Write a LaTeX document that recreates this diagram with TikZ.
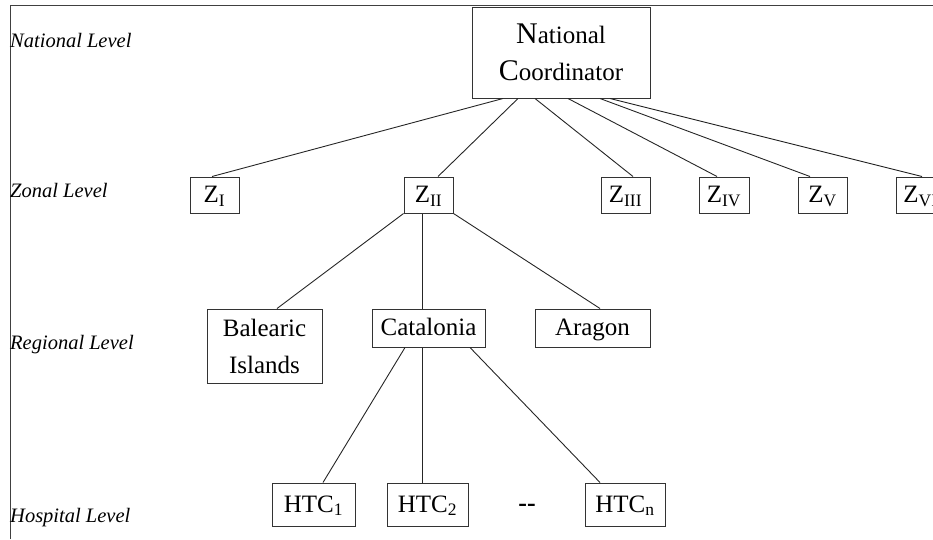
\documentclass[tikz,border=0pt]{standalone}
\usepackage{fontspec}
\setmainfont{Liberation Serif}
\usepackage{tikz}
\newcommand{\boxfont}{\fontsize{25}{37}\selectfont}
\newcommand{\initcap}[1]{{\fontsize{30}{37}\selectfont #1}}

\begin{document}
\begin{tikzpicture}[x=1pt,y=-1pt,
    orgbox/.style={draw=black!80,line width=1pt,inner sep=0pt,align=center,
        minimum height=36pt,font=\boxfont},
    oneline/.style={text height=17pt,text depth=1.5pt},
    levellabel/.style={anchor=west,inner sep=0pt,font=\fontsize{20.5}{22}\selectfont\itshape},
    link/.style={black!85,line width=0.9pt}]
\useasboundingbox (0,0) rectangle (933,539);
\clip (0,0) rectangle (933,539);
% frame
\draw[black!75,line width=1pt] (10,539) -- (10,5) -- (933,5);

% level labels
\node[levellabel] (lnat) at (10,40) {National Level};
\node[levellabel] (lzon) at (10,190) {Zonal Level};
\node[levellabel] (lreg) at (10,345) {Regional Level};
\node[levellabel] (lhos) at (10,518) {Hospital Level};

% national
\node[orgbox,minimum width=178pt,minimum height=91pt] (nc) at (561,52.5)
    {\initcap{N}ational\\\initcap{C}oordinator};

% zonal
\node[orgbox,oneline,minimum width=49pt] (z1) at (214.5,195) {Z\textsubscript{I}};
\node[orgbox,oneline,minimum width=49pt] (z2) at (428.5,195) {Z\textsubscript{II}};
\node[orgbox,oneline,minimum width=49pt] (z3) at (625.5,195) {Z\textsubscript{III}};
\node[orgbox,oneline,minimum width=50pt] (z4) at (724,195) {Z\textsubscript{IV}};
\node[orgbox,oneline,minimum width=49pt] (z5) at (822.5,195) {Z\textsubscript{V}};
\node[orgbox,oneline,minimum width=49pt] (z6) at (920.5,195) {Z\textsubscript{VI}};

% regional
\node[orgbox,minimum width=115pt,minimum height=74pt] (bal) at (264.5,346)
    {Balearic\\Islands};
\node[orgbox,oneline,minimum width=113pt,minimum height=38pt] (cat) at (428.5,328) {Catalonia};
\node[orgbox,oneline,minimum width=115pt,minimum height=38pt] (ara) at (592.5,328) {Aragon};

% hospital
\node[orgbox,oneline,minimum width=83pt,minimum height=43pt] (h1) at (313.5,504.5) {HTC\textsubscript{1}};
\node[orgbox,oneline,minimum width=81pt,minimum height=43pt] (h2) at (427.5,504.5) {HTC\textsubscript{2}};
\node[inner sep=0pt,font=\fontsize{26}{26}\selectfont\bfseries] (hdots) at (527,508) {-{}-};
\node[orgbox,oneline,minimum width=80pt,minimum height=43pt] (hn) at (625,504.5) {HTC\textsubscript{n}};

% national -> zonal
\draw[link] ([xshift=-58pt]nc.south) -- ([xshift=-2.5pt]z1.north);
\draw[link] ([xshift=-43pt]nc.south) -- ([xshift=9.5pt]z2.north);
\draw[link] ([xshift=-26pt]nc.south) -- ([xshift=7.5pt]z3.north);
\draw[link] ([xshift=7pt]nc.south) -- ([xshift=-7pt]z4.north);
\draw[link] ([xshift=39pt]nc.south) -- ([xshift=-12.5pt]z5.north);
\draw[link] ([xshift=49pt]nc.south) -- ([xshift=1.5pt]z6.north);

% zonal -> regional
\draw[link] (z2.south west) -- ([xshift=12.5pt]bal.north);
\draw[link] ([xshift=-6.5pt]z2.south) -- ([xshift=-6.5pt]cat.north);
\draw[link] (z2.south east) -- ([xshift=7.5pt]ara.north);

% regional -> hospital
\draw[link] ([xshift=-23.5pt]cat.south) -- ([xshift=9.5pt]h1.north);
\draw[link] ([xshift=-6.5pt]cat.south) -- ([xshift=-5.5pt]h2.north);
\draw[link] ([xshift=41.5pt]cat.south) -- ([xshift=-25pt]hn.north);
\end{tikzpicture}
\end{document}
